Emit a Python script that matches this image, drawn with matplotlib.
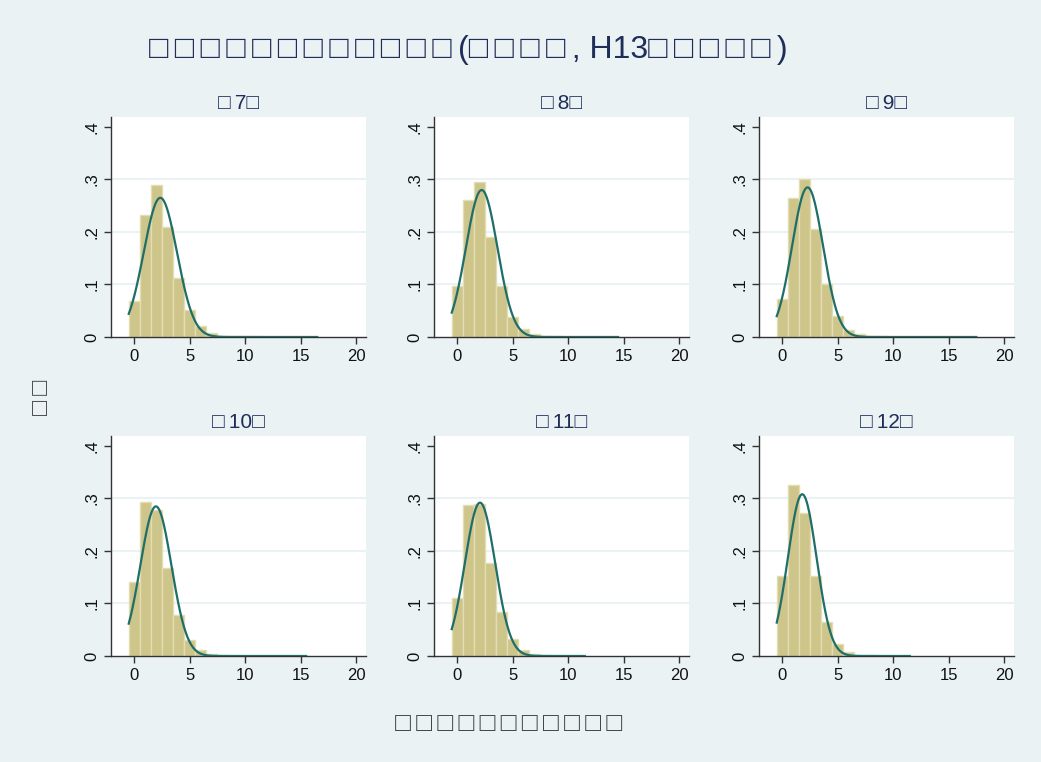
import numpy as np
import matplotlib
matplotlib.use("Agg")
import matplotlib.pyplot as plt

plt.rcParams['font.family'] = ['Liberation Sans', 'DejaVu Sans']


def tofu(s):
    # 元の文字は豆腐表示なので, 箱の後ろに細いスペースを入れて幅を合わせる
    return s.replace('□', '□\u2009').rstrip('\u2009')


# パネルの見出し
panel_titles = ['□7□', '□8□', '□9□', '□10□', '□11□', '□12□']
main_title = '□□□□□□□□□□□□(□□□□, H13□□□□□)'
y_title = '□□'
x_title = '□□□□□□□□□□□'

# 各パネルの度数 (密度), ビン幅1, 0から始まる整数中心
dens_7 = [0.068, 0.232, 0.290, 0.210, 0.112, 0.052, 0.021, 0.008, 0.002, 0.001,
          0.001, 0.001, 0.0005, 0.0005, 0.0003, 0.0002, 0.0002]
dens_8 = [0.098, 0.260, 0.295, 0.190, 0.097, 0.038, 0.015, 0.005, 0.002, 0.001,
          0.0005, 0.0003, 0.0002, 0.0001, 0.0001]
dens_9 = [0.072, 0.265, 0.300, 0.205, 0.100, 0.040, 0.013, 0.005, 0.002, 0.001,
          0.0005, 0.0003, 0.0002, 0.0001, 0.0001, 0.0001, 0.0001, 0.0001]
dens_10 = [0.140, 0.293, 0.278, 0.168, 0.078, 0.030, 0.012, 0.003, 0.001, 0.0005,
           0.0003, 0.0002, 0.0001, 0.0001, 0.0001, 0.0001]
dens_11 = [0.110, 0.287, 0.290, 0.178, 0.083, 0.032, 0.011, 0.003, 0.001, 0.0005,
           0.0003, 0.0002]
dens_12 = [0.153, 0.325, 0.273, 0.152, 0.064, 0.022, 0.007, 0.002, 0.001, 0.0005,
           0.0003, 0.0002]
densities = [dens_7, dens_8, dens_9, dens_10, dens_11, dens_12]

# 正規分布の当てはめ (平均, 標準偏差)
norm_mean = [2.35, 2.20, 2.28, 1.95, 2.05, 1.80]
norm_sd = [1.505, 1.425, 1.40, 1.40, 1.366, 1.295]

bg = '#EAF2F3'
bar_face = '#CEC58B'
bar_edge = '#E3DDB2'
curve_col = '#1F6E6A'
navy = '#1E2D5A'

W, H = 1041, 762
fig = plt.figure(figsize=(W / 100, H / 100), dpi=100)
fig.patch.set_facecolor(bg)

col_left = [111, 434, 759]
ax_w = 255
row_top = [117, 436]
ax_h = 220

for i, d in enumerate(densities):
    r, c = divmod(i, 3)
    left = col_left[c] / W
    bottom = 1 - (row_top[r] + ax_h) / H
    ax = fig.add_axes([left, bottom, ax_w / W, ax_h / H])
    ax.set_facecolor('white')

    x = np.arange(len(d))
    ax.bar(x, d, width=1.0, color=bar_face, edgecolor=bar_edge, linewidth=1.0, zorder=2)

    xs = np.linspace(-0.5, len(d) - 0.5, 400)
    m, s = norm_mean[i], norm_sd[i]
    ys = np.exp(-(xs - m) ** 2 / (2 * s * s)) / (s * np.sqrt(2 * np.pi))
    ax.plot(xs, ys, color=curve_col, lw=1.6, zorder=3)

    ax.set_xlim(-2.1, 20.9)
    ax.set_ylim(0, 0.419)
    ax.set_xticks([0, 5, 10, 15, 20])
    ax.set_yticks([0, 0.1, 0.2, 0.3, 0.4])
    ax.set_yticklabels(['0', '.1', '.2', '.3', '.4'], rotation=90, va='center')
    ax.tick_params(labelsize=12, length=5, width=1, color='#333333', labelcolor='#111111')
    for yv in [0.1, 0.2, 0.3]:
        ax.axhline(yv, color=bg, lw=1.5, zorder=1)
    for sp in ['top', 'right']:
        ax.spines[sp].set_visible(False)
    for sp in ['left', 'bottom']:
        ax.spines[sp].set_color('#333333')
        ax.spines[sp].set_linewidth(1)
    ax.set_title(tofu(panel_titles[i]), fontsize=15, color=navy, pad=6)

fig.text(468 / W, 1 - 50 / H, tofu(main_title),
         fontsize=23, color=navy, ha='center', va='center')
fig.text(41 / W, 1 - 397 / H, tofu(y_title), fontsize=18, color='#444444',
         rotation=90, ha='center', va='center')
fig.text(509 / W, 1 - 724 / H, tofu(x_title), fontsize=19, color='#444444',
         ha='center', va='center')

fig.savefig('out.png', dpi=100, facecolor=bg)
